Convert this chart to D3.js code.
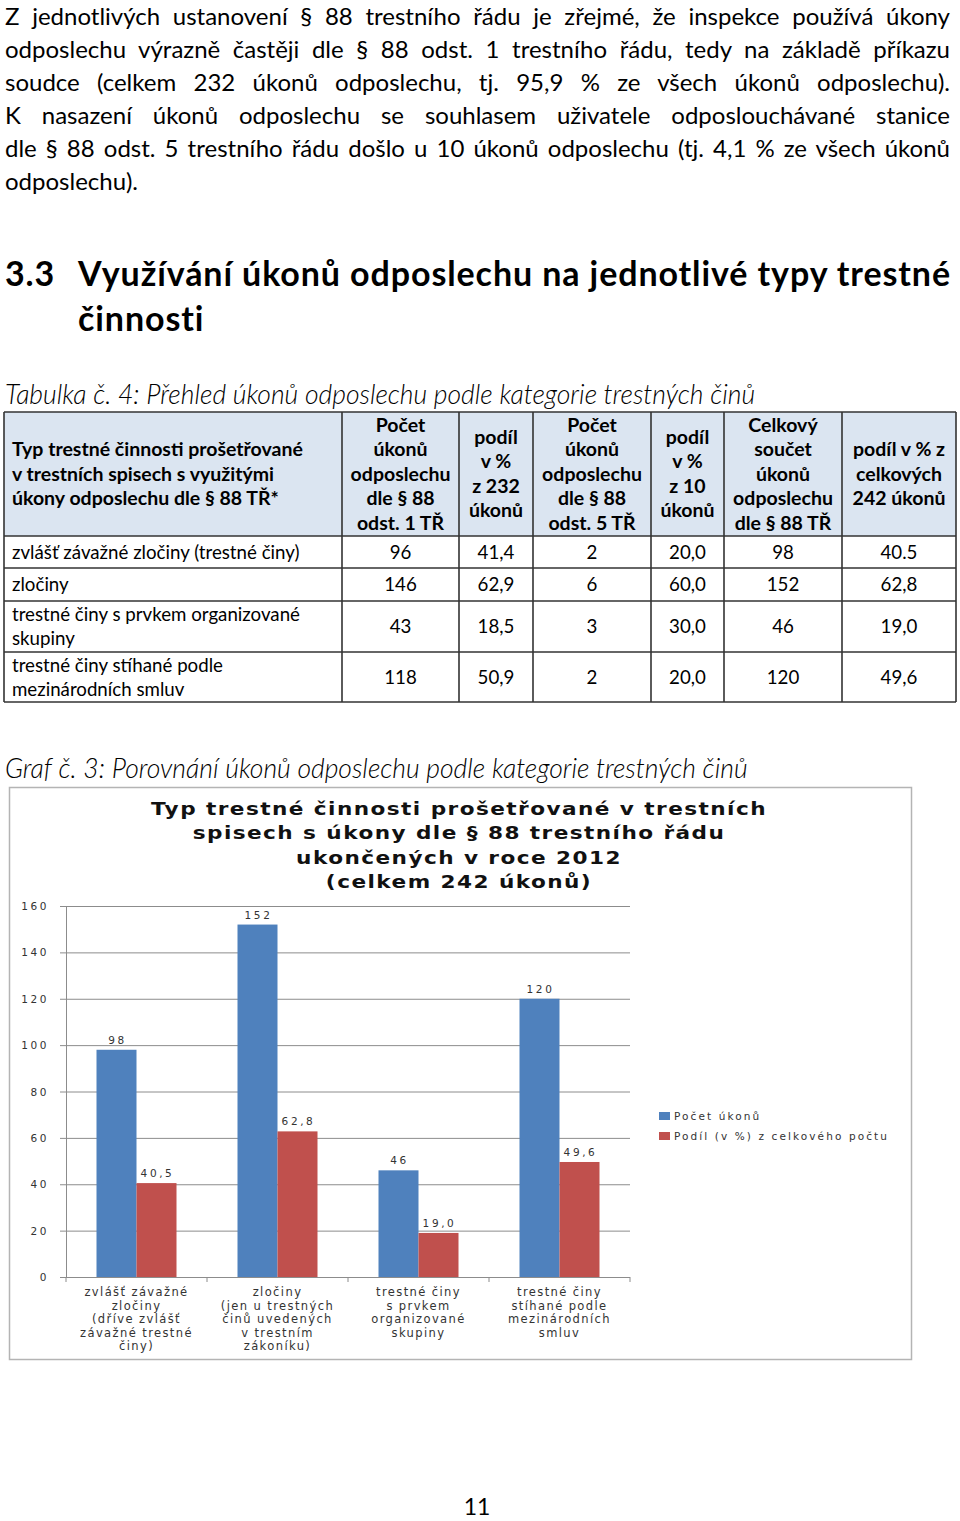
<!DOCTYPE html>
<html><head><meta charset="utf-8">
<script src="https://cdn.jsdelivr.net/npm/d3@7"></script>
<style>
body{margin:0;background:#fff;}
#page{position:relative;width:960px;height:1521px;overflow:hidden;font-family:Lato,"Open Sans",sans-serif;color:#000;background:#fff;}
.para{position:absolute;left:5px;top:3px;width:945px;font-size:24px;}
.para div{text-align:justify;text-align-last:justify;line-height:25px;height:25px;margin-bottom:8px;}
.para div.last{text-align-last:left;}
.h{position:absolute;font-weight:bold;font-size:34px;line-height:45px;letter-spacing:0.9px;}
.cap{position:absolute;left:5px;font-style:italic;font-weight:300;font-size:26.5px;line-height:32px;}
svg{position:absolute;left:0;top:0;}
</style></head><body><div id="page"></div>
<script>
// ---------- DATA ----------
const paragraphLines = [
  "Z jednotlivých ustanovení § 88 trestního řádu je zřejmé, že inspekce používá úkony",
  "odposlechu výrazně častěji dle § 88 odst. 1 trestního řádu, tedy na základě příkazu",
  "soudce (celkem 232 úkonů odposlechu, tj. 95,9 % ze všech úkonů odposlechu).",
  "K nasazení úkonů odposlechu se souhlasem uživatele odposlouchávané stanice",
  "dle § 88 odst. 5 trestního řádu došlo u 10 úkonů odposlechu (tj. 4,1 % ze všech úkonů",
  "odposlechu)."
];
const headingNumber = "3.3";
const headingLines = ["Využívání úkonů odposlechu na jednotlivé typy trestné", "činnosti"];
const tableCaption = "Tabulka č. 4: Přehled úkonů odposlechu podle kategorie trestných činů";
const chartCaption = "Graf č. 3: Porovnání úkonů odposlechu podle kategorie trestných činů";
const pageNumber = "11";

const tableHeaders = [
  ["Typ trestné činnosti prošetřované", "v trestních spisech s využitými", "úkony odposlechu dle § 88 TŘ*"],
  ["Počet", "úkonů", "odposlechu", "dle § 88", "odst. 1 TŘ"],
  ["podíl", "v %", "z 232", "úkonů"],
  ["Počet", "úkonů", "odposlechu", "dle § 88", "odst. 5 TŘ"],
  ["podíl", "v %", "z 10", "úkonů"],
  ["Celkový", "součet", "úkonů", "odposlechu", "dle § 88 TŘ"],
  ["podíl v % z", "celkových", "242 úkonů"]
];
const tableRowLabels = [
  ["zvlášť závažné zločiny (trestné činy)"],
  ["zločiny"],
  ["trestné činy s prvkem organizované", "skupiny"],
  ["trestné činy stíhané podle", "mezinárodních smluv"]
];
const count1 = [96, 146, 43, 118];
const share1 = [41.4, 62.9, 18.5, 50.9];
const count5 = [2, 6, 3, 2];
const share5 = [20.0, 60.0, 30.0, 20.0];
const totalCount = [98, 152, 46, 120];
const totalShare = [40.5, 62.8, 19.0, 49.6];
const totalShareTableLabels = ["40.5", "62,8", "19,0", "49,6"];

const chartTitle = ["Typ trestné činnosti prošetřované v trestních", "spisech s úkony dle § 88 trestního řádu", "ukončených v roce 2012", "(celkem 242 úkonů)"];
const chartCategories = [
  ["zvlášť závažné", "zločiny", "(dříve zvlášť", "závažné trestné", "činy)"],
  ["zločiny", "(jen u trestných", "činů uvedených", "v trestním", "zákoníku)"],
  ["trestné činy", "s prvkem", "organizované", "skupiny"],
  ["trestné činy", "stíhané podle", "mezinárodních", "smluv"]
];
const seriesNames = ["Počet úkonů", "Podíl (v %)  z celkového počtu"];
const seriesValues = [totalCount, totalShare];
const yTicks = [0, 20, 40, 60, 80, 100, 120, 140, 160];

// ---------- TEXT ----------
const page = d3.select("#page");
const para = page.append("div").attr("class", "para");
para.selectAll("div").data(paragraphLines).join("div")
  .classed("last", (d, i) => i === paragraphLines.length - 1).text(d => d);
page.append("div").attr("class", "h").style("left", "5px").style("top", "250px").text(headingNumber);
page.selectAll("div.hl").data(headingLines).join("div").attr("class", "h hl")
  .style("left", "78px").style("top", (d, i) => (250 + i * 45) + "px").text(d => d);
page.append("div").attr("class", "cap").style("top", "378px").text(tableCaption);
page.append("div").attr("class", "cap").style("top", "752px").text(chartCaption);

const svg = page.append("svg").attr("width", 960).attr("height", 1521);

// ---------- TABLE ----------
const colEdges = [4, 342, 459, 533, 651, 724, 842, 956];
const rowEdges = [412, 536, 568, 601, 652, 702];
const tfont = "Lato, 'Open Sans', sans-serif";
const fmt = v => d3.format(".1f")(v).replace(".", ",");
const T = svg.append("g").attr("font-family", tfont);
T.append("rect").attr("x", colEdges[0]).attr("y", rowEdges[0])
  .attr("width", colEdges[7] - colEdges[0]).attr("height", rowEdges[1] - rowEdges[0]).attr("fill", "#dbe5f1");
tableHeaders.forEach((lines, c) => {
  const n = lines.length, lh = 24.5;
  const cy = (rowEdges[0] + rowEdges[1]) / 2;
  const left = c === 0;
  T.append("g").selectAll("text").data(lines).join("text")
    .attr("x", left ? colEdges[0] + 8 : (colEdges[c] + colEdges[c + 1]) / 2)
    .attr("y", (d, i) => cy + (i - (n - 1) / 2) * lh + 6.5)
    .attr("text-anchor", left ? "start" : "middle")
    .attr("font-weight", "bold").attr("font-size", 19.5).text(d => d);
});
const tableCols = [
  count1.map(String), share1.map(fmt), count5.map(String), share5.map(fmt),
  totalCount.map(String), totalShareTableLabels
];
tableRowLabels.forEach((lines, r) => {
  const y0 = rowEdges[r + 1], y1 = rowEdges[r + 2], cy = (y0 + y1) / 2;
  const n = lines.length, lh = 24;
  T.append("g").selectAll("text").data(lines).join("text")
    .attr("x", colEdges[0] + 8)
    .attr("y", (d, i) => cy + (i - (n - 1) / 2) * lh + 6.5)
    .attr("font-size", 18.7).text(d => d);
  tableCols.forEach((col, c) => {
    T.append("text").attr("x", (colEdges[c + 1] + colEdges[c + 2]) / 2).attr("y", cy + 6.5)
      .attr("text-anchor", "middle").attr("font-size", 18.7).text(col[r]);
  });
});
T.selectAll("line.v").data(colEdges).join("line").attr("class", "v")
  .attr("x1", d => d).attr("x2", d => d).attr("y1", rowEdges[0]).attr("y2", rowEdges[rowEdges.length - 1])
  .attr("stroke", "#333").attr("stroke-width", 1.6);
T.selectAll("line.h").data(rowEdges).join("line").attr("class", "h")
  .attr("x1", colEdges[0]).attr("x2", colEdges[7]).attr("y1", d => d).attr("y2", d => d)
  .attr("stroke", "#333").attr("stroke-width", 1.6);

// ---------- CHART ----------
const C = svg.append("g").attr("font-family", "'DejaVu Sans', Verdana, sans-serif");
C.append("rect").attr("x", 9.5).attr("y", 787.5).attr("width", 902).attr("height", 572)
  .attr("fill", "#fff").attr("stroke", "#b4b4b4").attr("stroke-width", 1.5);
C.append("g").selectAll("text").data(chartTitle).join("text")
  .attr("transform", (d, i) => `translate(459,${815 + i * 24.3}) scale(1.2,1)`)
  .attr("text-anchor", "middle")
  .attr("font-weight", "bold").attr("font-size", 18).attr("letter-spacing", 1.2)
  .attr("fill", "#111").text(d => d);

const x0 = d3.scaleBand().domain(d3.range(chartCategories.length)).range([66, 630]).padding(0);
const x1 = d3.scaleBand().domain(d3.range(seriesNames.length)).range([0, x0.bandwidth()]).paddingInner(0).paddingOuter(0.7625);
const y = d3.scaleLinear().domain([0, 160]).range([1277, 906]);
const colors = ["#4f81bd", "#c0504d"];

C.append("g").selectAll("line").data(yTicks).join("line")
  .attr("x1", 60).attr("x2", 630).attr("y1", d => y(d) + 0.5).attr("y2", d => y(d) + 0.5)
  .attr("stroke", "#8c8c8c").attr("stroke-width", 1);
C.append("g").selectAll("text").data(yTicks).join("text")
  .attr("x", 49).attr("y", d => y(d) + 4).attr("text-anchor", "end")
  .attr("font-size", 10.5).attr("letter-spacing", 2.6).attr("fill", "#333").text(d => d);
C.append("line").attr("x1", 66.5).attr("x2", 66.5).attr("y1", y(160)).attr("y2", y(0))
  .attr("stroke", "#8c8c8c");
C.append("g").selectAll("line").data(d3.range(chartCategories.length + 1)).join("line")
  .attr("x1", d => d === chartCategories.length ? x0.range()[1] : x0(d))
  .attr("x2", d => d === chartCategories.length ? x0.range()[1] : x0(d))
  .attr("y1", y(0)).attr("y2", y(0) + 5).attr("stroke", "#8c8c8c");

seriesValues.forEach((vals, s) => {
  const g = C.append("g");
  g.selectAll("rect").data(vals).join("rect")
    .attr("x", (d, i) => x0(i) + x1(s)).attr("width", x1.bandwidth())
    .attr("y", d => y(d)).attr("height", d => y(0) - y(d)).attr("fill", colors[s]);
  g.selectAll("text").data(vals).join("text")
    .attr("x", (d, i) => x0(i) + x1(s) + x1.bandwidth() / 2 + 1).attr("y", d => y(d) - 6)
    .attr("text-anchor", "middle").attr("font-size", 10.5).attr("letter-spacing", 2.6)
    .attr("fill", "#333").text(d => s === 0 ? String(d) : fmt(d));
});

chartCategories.forEach((lines, i) => {
  C.append("g").selectAll("text").data(lines).join("text")
    .attr("x", x0(i) + x0.bandwidth() / 2).attr("y", (d, j) => 1296 + j * 13.5)
    .attr("text-anchor", "middle").attr("font-size", 11.5).attr("letter-spacing", 1.4)
    .attr("fill", "#333").text(d => d);
});

const L = C.append("g");
seriesNames.forEach((nm, s) => {
  L.append("rect").attr("x", 659).attr("y", 1112 + s * 20).attr("width", 11).attr("height", 8).attr("fill", colors[s]);
  L.append("text").attr("x", 674).attr("y", 1120 + s * 20).attr("font-size", 10.5)
    .attr("letter-spacing", 2.1).attr("fill", "#333").text(nm);
});

svg.append("text").attr("x", 477).attr("y", 1515).attr("text-anchor", "middle")
  .attr("font-family", tfont).attr("font-size", 23).text(pageNumber);
</script></body></html>
